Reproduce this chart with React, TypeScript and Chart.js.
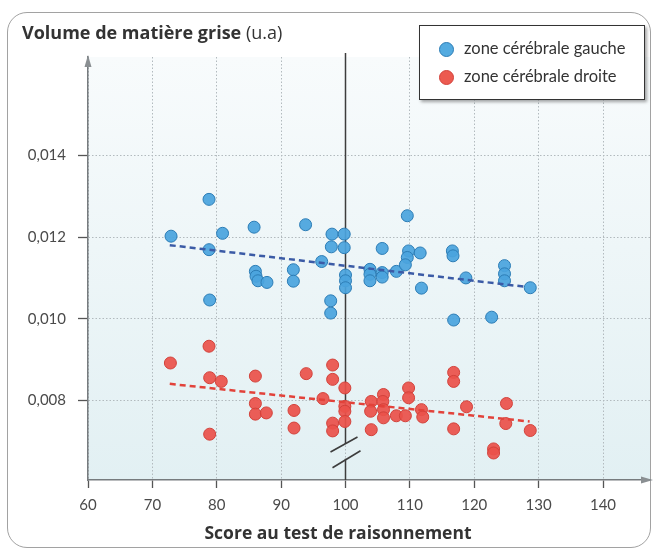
import React, { useEffect, useRef } from "react";
import { Chart, registerables } from "chart.js";

Chart.register(...registerables);

const FONT = "Lato, 'Open Sans', sans-serif";
const TITLE_FONT = "'Open Sans', Lato, sans-serif";

// ---- data ----
const xTicks = [60, 70, 80, 90, 100, 110, 120, 130, 140];
const xTickLabels = ["60", "70", "80", "90", "100", "110", "120", "130", "140"];
const yTicks = [0.008, 0.01, 0.012, 0.014];
const yTickLabels = ["0,008", "0,010", "0,012", "0,014"];
const xRange = [60, 147.3];
const yRange = [0.00606, 0.0164];

const seriesNames = ["zone cérébrale gauche", "zone cérébrale droite"];

const gaucheX = [
  72.9, 78.8, 78.8, 80.9, 78.9, 85.8, 86.0, 86.1, 86.4, 87.8, 91.9, 91.9, 93.8, 96.3,
  97.9, 97.8, 99.8, 99.8, 97.7, 97.7, 100, 100, 100, 105.7, 103.8, 103.8, 103.8, 105.7,
  105.7, 107.9, 109.6, 109.8, 109.6, 109.3, 111.6, 111.8, 116.6, 116.7, 116.8, 118.7,
  122.7, 124.7, 124.7, 124.7, 128.7,
];
const gaucheY = [
  0.01202, 0.01292, 0.01169, 0.01209, 0.01046, 0.01224, 0.01116, 0.01104, 0.01093, 0.01089,
  0.0112, 0.01092, 0.0123, 0.0114, 0.01207, 0.01176, 0.01207, 0.01174, 0.01044, 0.01014,
  0.01107, 0.01093, 0.01076, 0.01172, 0.01121, 0.01109, 0.01093, 0.01113, 0.01102, 0.01116,
  0.01252, 0.01166, 0.0115, 0.01132, 0.01161, 0.01075, 0.01166, 0.01154, 0.00997, 0.011,
  0.01004, 0.0113, 0.0111, 0.01093, 0.01076,
];

const droiteX = [
  72.8, 78.8, 78.9, 80.7, 78.9, 86.0, 86.0, 86.0, 87.7, 92.0, 92.0, 93.9, 96.5, 98.0,
  98.0, 98.0, 98.0, 99.9, 99.9, 99.9, 99.9, 104.0, 103.9, 104.0, 105.9, 105.8, 105.9,
  105.9, 107.9, 109.3, 109.8, 109.8, 111.8, 112.0, 116.8, 116.8, 116.8, 118.8, 123.0,
  123.0, 125.0, 124.9, 128.7,
];
const droiteY = [
  0.00892, 0.00933, 0.00856, 0.00847, 0.00718, 0.0086, 0.00793, 0.00767, 0.0077, 0.00776,
  0.00733, 0.00866, 0.00805, 0.00887, 0.00852, 0.00745, 0.00726, 0.00831, 0.00786, 0.00774,
  0.00749, 0.00798, 0.00774, 0.00729, 0.00815, 0.00798, 0.00778, 0.00758, 0.00763, 0.00763,
  0.00831, 0.00807, 0.00778, 0.0076, 0.00869, 0.00847, 0.00731, 0.00785, 0.00682, 0.00672,
  0.00793, 0.00744, 0.00727,
];

const trendGaucheX = [72.7, 128.1];
const trendGaucheY = [0.0118, 0.01078];
const trendDroiteX = [72.7, 128.6];
const trendDroiteY = [0.00841, 0.00749];

const meanScore = 100;
const breakValues = [0.00694, 0.00658];

const BLUE_FILL = "rgba(74,164,222,0.93)";
const BLUE_EDGE = "#2c7db6";
const RED_FILL = "rgba(235,82,74,0.93)";
const RED_EDGE = "#d3423b";

const toPts = (xs: number[], ys: number[]) => xs.map((x, i) => ({ x, y: ys[i] }));

const decor = {
  id: "decor",
  beforeDraw(chart: any) {
    const { ctx, chartArea: a } = chart;
    ctx.save();
    const g = ctx.createLinearGradient(0, a.top, 0, a.bottom);
    g.addColorStop(0, "#f8fbfc");
    g.addColorStop(0.45, "#eef6f8");
    g.addColorStop(1, "#e2f0f3");
    ctx.fillStyle = g;
    ctx.fillRect(a.left, a.top, a.right - a.left, a.bottom - a.top);
    ctx.restore();
  },
  beforeDatasetsDraw(chart: any) {
    const { ctx, chartArea: a, scales } = chart;
    const x = scales.x.getPixelForValue(meanScore);
    const b1 = scales.y.getPixelForValue(breakValues[0]);
    const b2 = scales.y.getPixelForValue(breakValues[1]);
    ctx.save();
    ctx.strokeStyle = "#3d3d3d";
    ctx.lineWidth = 1.5;
    ctx.beginPath();
    ctx.moveTo(x, a.top - 4);
    ctx.lineTo(x, b1);
    ctx.moveTo(x, b2);
    ctx.lineTo(x, a.bottom);
    ctx.stroke();
    ctx.lineWidth = 1.6;
    ctx.beginPath();
    ctx.moveTo(x - 15, b1 + 8);
    ctx.lineTo(x + 12, b1 - 7);
    ctx.moveTo(x - 13, b2 + 9);
    ctx.lineTo(x + 15, b2 - 8);
    ctx.stroke();
    ctx.restore();
  },
  afterDraw(chart: any) {
    const { ctx, chartArea: a } = chart;
    ctx.save();
    ctx.fillStyle = "#8a8f92";
    ctx.beginPath();
    ctx.moveTo(a.left, a.top - 2);
    ctx.lineTo(a.left - 3.5, a.top + 10);
    ctx.lineTo(a.left + 3.5, a.top + 10);
    ctx.closePath();
    ctx.fill();
    ctx.beginPath();
    ctx.moveTo(a.right + 3, a.bottom);
    ctx.lineTo(a.right - 9, a.bottom - 3.5);
    ctx.lineTo(a.right - 9, a.bottom + 3.5);
    ctx.closePath();
    ctx.fill();
    ctx.restore();
  },
};

export default function App() {
  const ref = useRef<HTMLCanvasElement | null>(null);

  useEffect(() => {
    if (!ref.current) return;
    const chart = new Chart(ref.current, {
      type: "scatter",
      data: {
        datasets: [
          {
            label: seriesNames[0],
            data: toPts(gaucheX, gaucheY),
            backgroundColor: BLUE_FILL,
            borderColor: BLUE_EDGE,
            borderWidth: 1,
            pointRadius: 6,
            order: 2,
          },
          {
            label: seriesNames[1],
            data: toPts(droiteX, droiteY),
            backgroundColor: RED_FILL,
            borderColor: RED_EDGE,
            borderWidth: 1,
            pointRadius: 6,
            order: 2,
          },
          {
            type: "line",
            label: "tendance gauche",
            data: toPts(trendGaucheX, trendGaucheY),
            borderColor: "#3b5ba6",
            borderDash: [6, 4],
            borderWidth: 2.5,
            pointRadius: 0,
            fill: false,
            order: 0,
          } as any,
          {
            type: "line",
            label: "tendance droite",
            data: toPts(trendDroiteX, trendDroiteY),
            borderColor: "#e2423a",
            borderDash: [6, 4],
            borderWidth: 2.5,
            pointRadius: 0,
            fill: false,
            order: 0,
          } as any,
        ],
      },
      options: {
        animation: false,
        responsive: false,
        devicePixelRatio: 1,
        layout: { padding: { left: 0, right: 7, top: 57, bottom: 0 } },
        plugins: { legend: { display: false }, tooltip: { enabled: false }, title: { display: false } },
        scales: {
          x: {
            type: "linear",
            min: xRange[0],
            max: xRange[1],
            afterBuildTicks: (s: any) => {
              s.ticks = xTicks.map((v) => ({ value: v }));
            },
            afterFit: (s: any) => {
              s.height = 72;
            },
            ticks: {
              callback: (_v: any, i: number) => xTickLabels[i],
              font: { family: FONT, size: 15 },
              color: "#4a4a4a",
              padding: 8,
              maxRotation: 0,
              autoSkip: false,
            },
            grid: { color: "#b2babe", lineWidth: 1, tickLength: 8, tickColor: "#555", tickWidth: 1.3 },
            border: { display: true, color: "#767b7e", width: 1.5, dash: [1.5, 2] },
          },
          y: {
            type: "linear",
            min: yRange[0],
            max: yRange[1],
            afterBuildTicks: (s: any) => {
              s.ticks = yTicks.map((v) => ({ value: v }));
            },
            afterFit: (s: any) => {
              s.width = 88;
            },
            ticks: {
              callback: (_v: any, i: number) => yTickLabels[i],
              font: { family: FONT, size: 15 },
              color: "#4a4a4a",
              padding: 12,
              autoSkip: false,
            },
            grid: { color: "#b2babe", lineWidth: 1, tickLength: 10, tickColor: "#555", tickWidth: 1.3 },
            border: { display: true, color: "#767b7e", width: 1.5, dash: [1.5, 2] },
          },
        },
      },
      plugins: [decor],
    } as any);
    return () => chart.destroy();
  }, []);

  const dot = (fill: string, edge: string): React.CSSProperties => ({
    position: "absolute",
    left: 19,
    width: 13,
    height: 13,
    borderRadius: "50%",
    background: fill,
    border: `1px solid ${edge}`,
  });

  return (
    <div style={{ position: "absolute", left: 0, top: 0, width: 657, height: 552, background: "#fff", overflow: "hidden", fontFamily: FONT }}>
      <div
        style={{
          position: "absolute",
          left: 7,
          top: 12,
          width: 644,
          height: 536,
          border: "1.5px solid #a2a2a2",
          borderRadius: 20,
          boxSizing: "border-box",
        }}
      />
      <canvas ref={ref} width={657} height={552} style={{ position: "absolute", left: 0, top: 0, width: 657, height: 552 }} />
      <div style={{ position: "absolute", left: 22, top: 20, fontSize: 18, color: "#333", whiteSpace: "nowrap", fontFamily: TITLE_FONT }}>
        <span style={{ fontWeight: 700 }}>Volume de matière grise</span> (u.a)
      </div>
      <div
        style={{
          position: "absolute",
          left: 338 - 200,
          width: 400,
          textAlign: "center",
          top: 520,
          fontSize: 17.5,
          fontWeight: 700,
          color: "#333",
          whiteSpace: "nowrap",
          fontFamily: TITLE_FONT,
        }}
      >
        Score au test de raisonnement
      </div>
      <div
        style={{
          position: "absolute",
          left: 419,
          top: 25,
          width: 226,
          height: 75,
          boxSizing: "border-box",
          border: "1.5px solid #333",
          background: "#fff",
          boxShadow: "2px 2px 3px rgba(0,0,0,0.35)",
          fontSize: 16.5,
          color: "#333",
        }}
      >
        <div style={{ ...dot("#54abe0", BLUE_EDGE), top: 16 }} />
        <div style={{ ...dot("#ec5a50", RED_EDGE), top: 44 }} />
        <div style={{ position: "absolute", left: 44, top: 12, whiteSpace: "nowrap" }}>{seriesNames[0]}</div>
        <div style={{ position: "absolute", left: 44, top: 40, whiteSpace: "nowrap" }}>{seriesNames[1]}</div>
      </div>
    </div>
  );
}
